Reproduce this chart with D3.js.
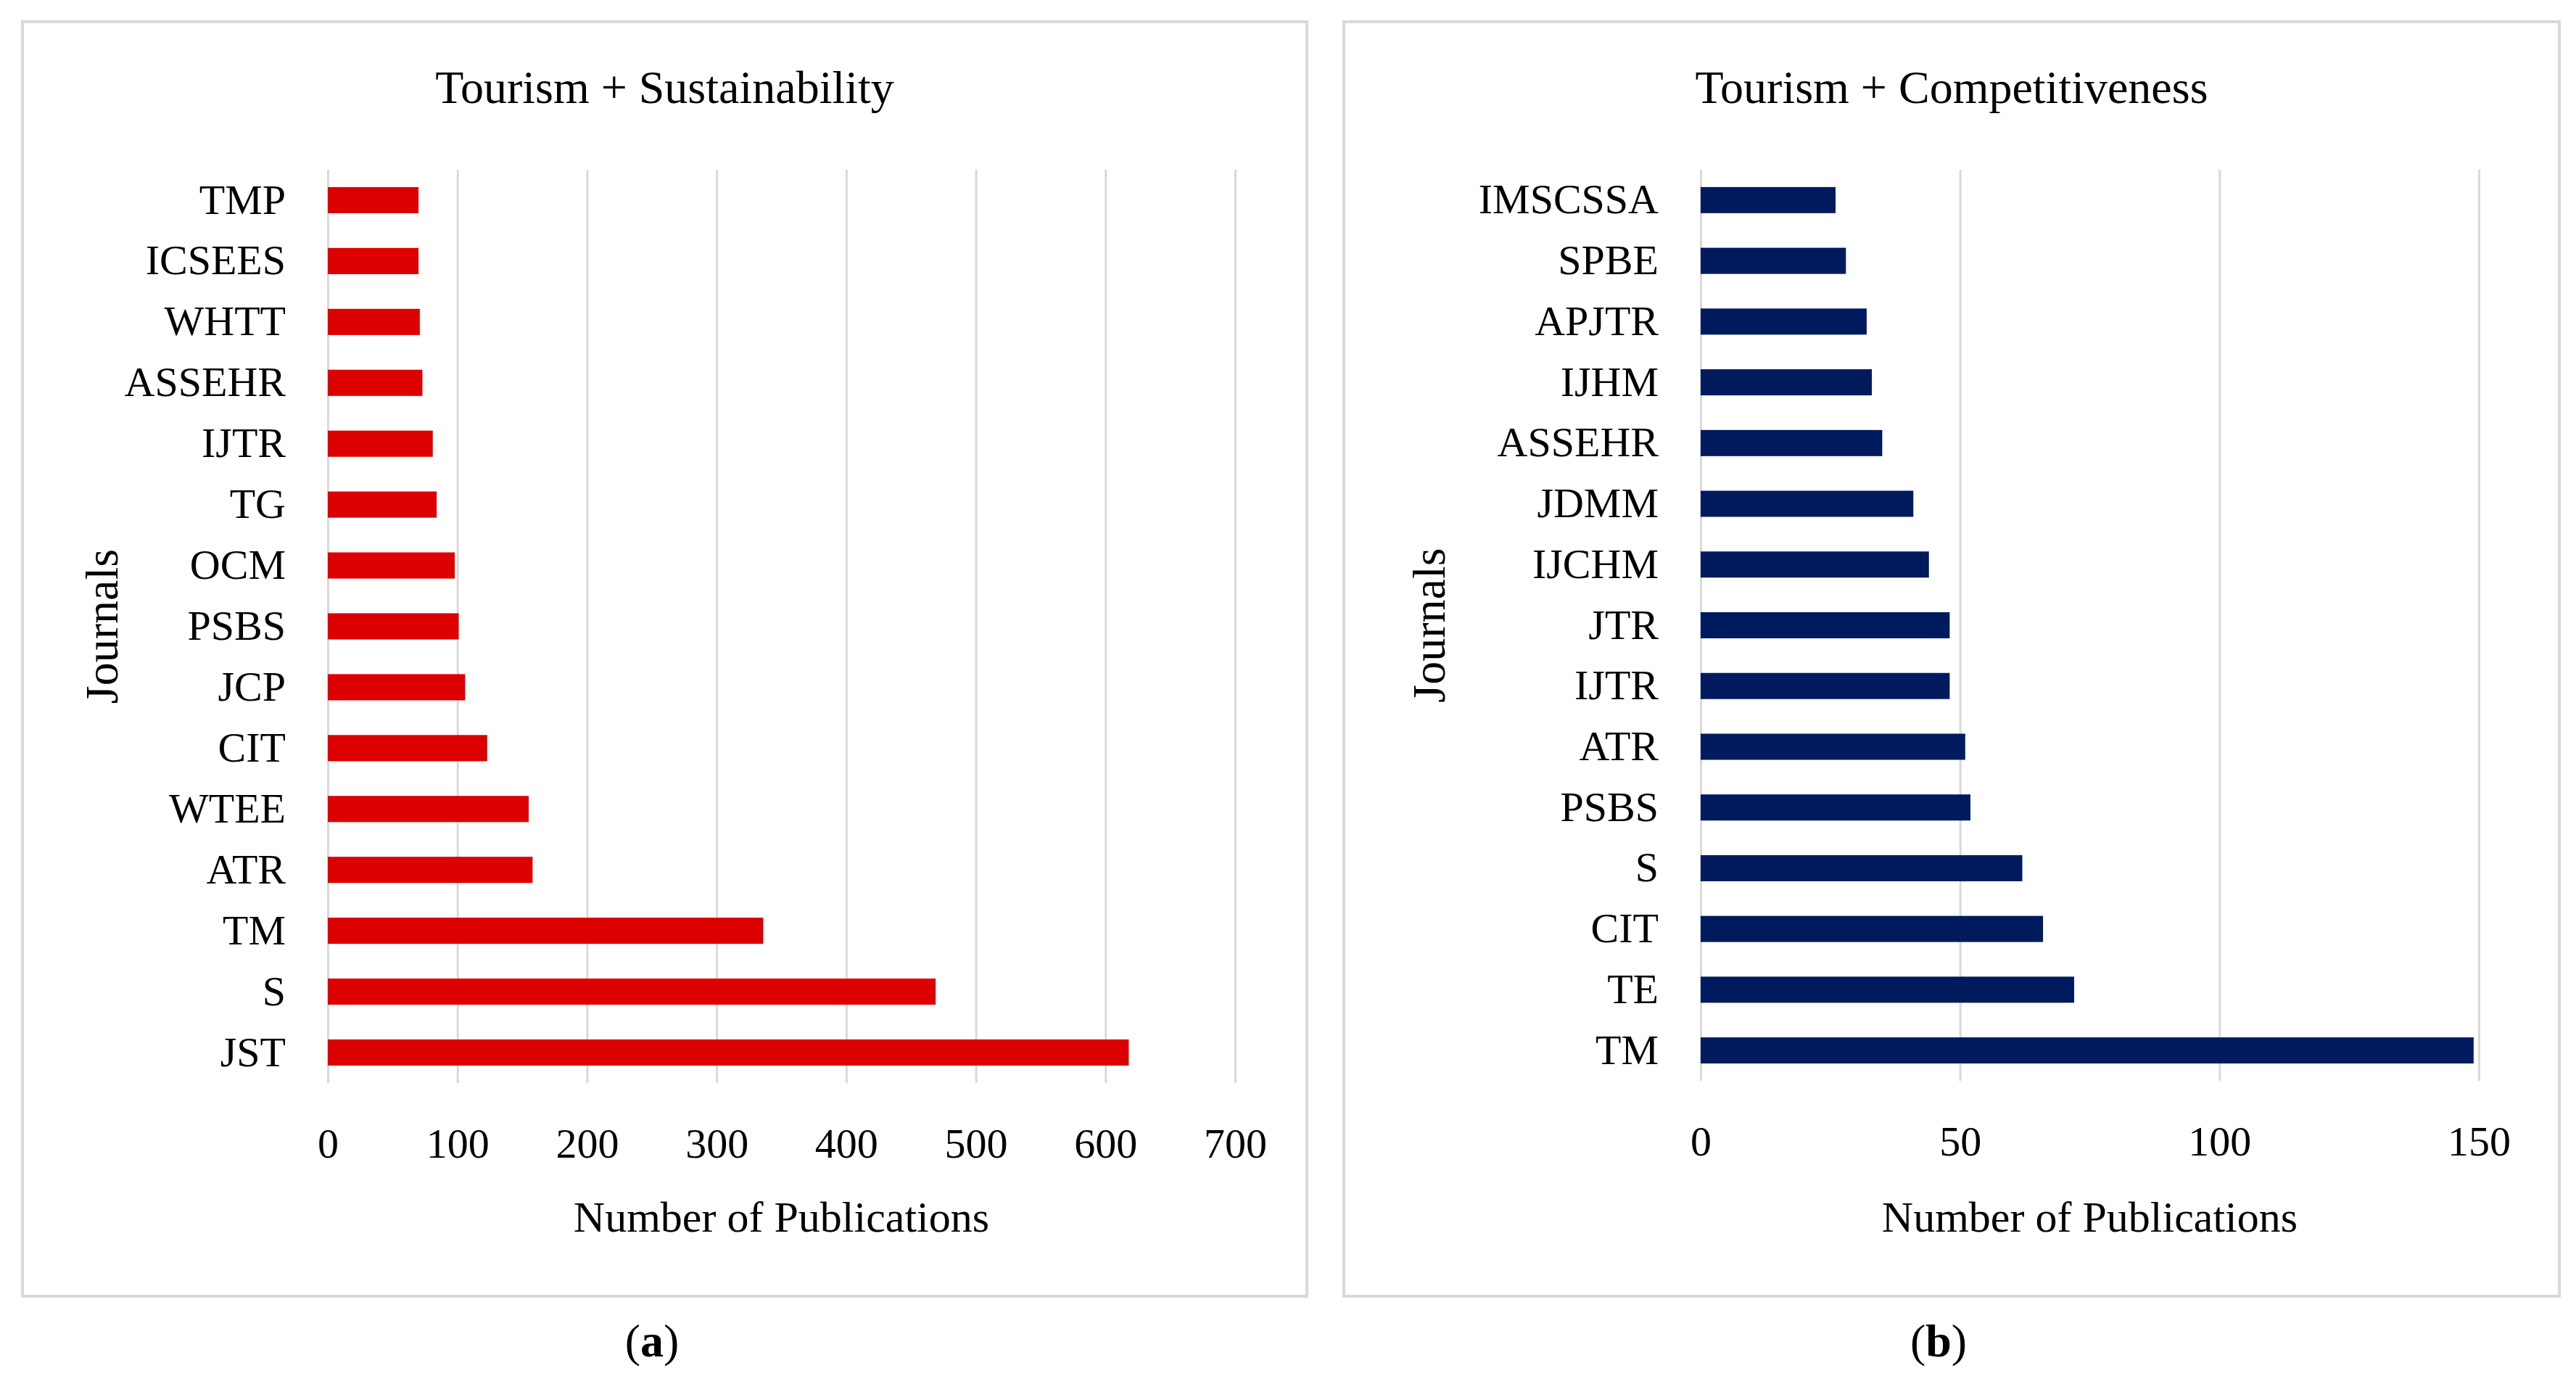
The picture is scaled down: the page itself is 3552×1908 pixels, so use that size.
<!DOCTYPE html>
<html>
<head>
<meta charset="utf-8">
<script src="https://cdn.jsdelivr.net/npm/d3@7"></script>
<style>
  body { margin: 0; background: #fff; }
  svg text { font-family: "Liberation Serif", "DejaVu Serif", serif; fill: #000; }
</style>
</head>
<body>
<div id="chart"></div>
<script>
// (a) Tourism + Sustainability, listed top to bottom
const sustJournals = ["TMP", "ICSEES", "WHTT", "ASSEHR", "IJTR", "TG", "OCM", "PSBS", "JCP", "CIT", "WTEE", "ATR", "TM", "S", "JST"];
const sustCounts = [70, 70, 71, 73, 81, 84, 98, 101, 106, 123, 155, 158, 336, 469, 618];
const sustTicks = [0, 100, 200, 300, 400, 500, 600, 700];

// (b) Tourism + Competitiveness, listed top to bottom
const compJournals = ["IMSCSSA", "SPBE", "APJTR", "IJHM", "ASSEHR", "JDMM", "IJCHM", "JTR", "IJTR", "ATR", "PSBS", "S", "CIT", "TE", "TM"];
const compCounts = [26, 28, 32, 33, 35, 41, 44, 48, 48, 51, 52, 62, 66, 72, 149];
const compTicks = [0, 50, 100, 150];

const W = 3552, H = 1908;

const svg = d3.select("#chart").append("svg")
    .attr("width", W)
    .attr("height", H);

svg.append("rect").attr("width", W).attr("height", H).attr("fill", "#fff");

function drawPanel(opts) {
    const journals = opts.journals, counts = opts.counts, ticks = opts.ticks;
    const data = journals.map((j, i) => ({journal: j, count: counts[i]}));

    // panel frame
    svg.append("rect")
        .attr("x", opts.box[0])
        .attr("y", opts.box[1])
        .attr("width", opts.box[2] - opts.box[0])
        .attr("height", opts.box[3] - opts.box[1])
        .attr("fill", "none")
        .attr("stroke", "#d9d9d9")
        .attr("stroke-width", 4);

    const cx = (opts.box[0] + opts.box[2]) / 2;

    svg.append("text")
        .attr("x", cx)
        .attr("y", 120)
        .attr("dy", "0.35em")
        .attr("text-anchor", "middle")
        .attr("font-size", 64)
        .text(opts.title);

    const x = d3.scaleLinear()
        .domain([0, d3.max(ticks)])
        .range([opts.x0, opts.x1]);

    const y = d3.scaleBand()
        .domain(journals)
        .range([opts.y0, opts.y1])
        .paddingInner(0.57)
        .paddingOuter(0.285);

    // gridlines + tick labels
    const xAxis = svg.append("g")
        .attr("class", "x-axis")
        .attr("transform", `translate(0,${opts.y1})`)
        .call(d3.axisBottom(x)
            .tickValues(ticks)
            .tickSize(-(opts.y1 - opts.y0))
            .tickPadding(62)
            .tickFormat(d3.format("d")));
    xAxis.select(".domain").remove();
    xAxis.selectAll(".tick line")
        .attr("stroke", "#d9d9d9")
        .attr("stroke-width", 3);
    xAxis.selectAll(".tick text")
        .attr("font-size", 58)
        .attr("font-family", "Liberation Serif")
        .attr("fill", "#000");

    svg.selectAll(null)
        .data(data)
        .join("rect")
        .attr("x", x(0))
        .attr("y", d => y(d.journal))
        .attr("width", d => x(d.count) - x(0))
        .attr("height", y.bandwidth())
        .attr("fill", opts.color);

    const yAxis = svg.append("g")
        .attr("class", "y-axis")
        .attr("transform", `translate(${opts.x0},0)`)
        .call(d3.axisLeft(y).tickSize(0).tickPadding(58));
    yAxis.select(".domain").remove();
    yAxis.selectAll(".tick text")
        .attr("font-size", 58)
        .attr("font-family", "Liberation Serif")
        .attr("fill", "#000");

    svg.append("text")
        .attr("x", (opts.x0 + opts.x1) / 2)
        .attr("y", 1677)
        .attr("dy", "0.35em")
        .attr("text-anchor", "middle")
        .attr("font-size", 60)
        .text("Number of Publications");

    svg.append("text")
        .attr("transform", `translate(${opts.ylabelX},${(opts.y0 + opts.y1) / 2}) rotate(-90)`)
        .attr("dy", "0.35em")
        .attr("text-anchor", "middle")
        .attr("font-size", 64)
        .text("Journals");

    const cap = svg.append("text")
        .attr("x", opts.capX)
        .attr("y", 1848)
        .attr("dy", "0.35em")
        .attr("text-anchor", "middle")
        .attr("font-size", 64);
    cap.append("tspan").text("(");
    cap.append("tspan").attr("font-weight", "bold").text(opts.caption);
    cap.append("tspan").text(")");
}

drawPanel({
    title: "Tourism + Sustainability",
    journals: sustJournals, counts: sustCounts, ticks: sustTicks,
    color: "#dd0000",
    box: [31, 30, 1802, 1787],
    x0: 452, x1: 1703, y0: 234, y1: 1493,
    ylabelX: 140, capX: 899, caption: "a"
});

drawPanel({
    title: "Tourism + Competitiveness",
    journals: compJournals, counts: compCounts, ticks: compTicks,
    color: "#001a5e",
    box: [1853, 30, 3529, 1787],
    x0: 2345, x1: 3418, y0: 234, y1: 1490,
    ylabelX: 1970, capX: 2673, caption: "b"
});
</script>
</body>
</html>
